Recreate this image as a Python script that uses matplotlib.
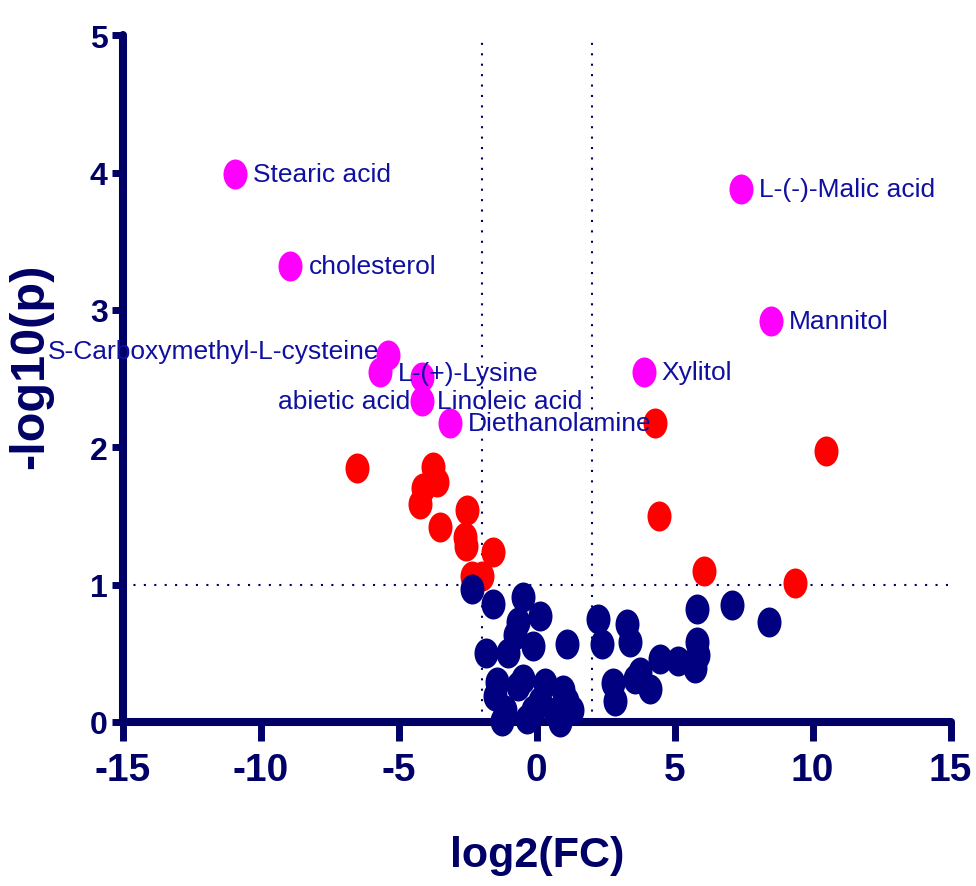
import matplotlib
matplotlib.use("Agg")
import matplotlib.pyplot as plt
import numpy as np
from matplotlib.path import Path
from matplotlib.transforms import Affine2D

plt.rcParams["font.family"] = ["Liberation Sans", "DejaVu Sans"]
plt.rcParams["axes.unicode_minus"] = False

# significant metabolites (labelled, magenta)
sig_names = [
    "Stearic acid", "cholesterol", "S-Carboxymethyl-L-cysteine", "L-(+)-Lysine",
    "abietic acid", "Linoleic acid", "Diethanolamine", "Xylitol",
    "L-(-)-Malic acid", "Mannitol",
]
sig_x = [-10.94, -8.95, -5.40, -5.69, -4.17, -4.17, -3.15, 3.88, 7.39, 8.48]
sig_y = [3.99, 3.32, 2.67, 2.55, 2.34, 2.51, 2.18, 2.55, 3.88, 2.92]

# p < 0.1 but not labelled (red)
red_x = [-6.52, -3.77, -3.62, -4.13, -4.24, -3.51, -2.54, -2.61, -2.57, -1.59,
         -2.36, -2.00, 4.28, 4.42, 6.05, 9.35, 10.50]
red_y = [1.85, 1.86, 1.75, 1.70, 1.59, 1.42, 1.54, 1.35, 1.28, 1.24,
         1.06, 1.06, 2.18, 1.50, 1.10, 1.01, 1.97]

# not significant (navy)
ns_x = [-2.36, -1.59, -0.51, 0.11, -0.69, -0.80, -0.14, -1.05, -1.85, 1.09,
        -1.45, -1.52, -0.69, -1.16, -1.27, 0.29, 0.11, 0.94, 1.09, 0.83,
        -0.14, -0.36, 1.27, 0.65, -0.51,
        2.21, 2.36, 3.26, 3.37, 2.75, 2.83, 3.55, 4.09, 4.46, 5.10,
        5.72, 5.80, 5.80, 5.83, 3.73, 7.07, 8.41]
ns_y = [0.97, 0.86, 0.91, 0.77, 0.73, 0.63, 0.55, 0.50, 0.50, 0.57,
        0.29, 0.19, 0.26, 0.09, 0.01, 0.28, 0.15, 0.23, 0.15, 0.00,
        0.09, 0.02, 0.09, 0.07, 0.31,
        0.75, 0.57, 0.71, 0.58, 0.28, 0.15, 0.31, 0.24, 0.46, 0.44,
        0.39, 0.58, 0.82, 0.49, 0.36, 0.85, 0.73]

fc_cut = 2
p_cut = 1

# label placement: (dx, dy) in points, horizontal alignment
label_pos = [
    (13, 0, "left"), (13.5, 0, "left"), (-6, 3, "right"), (13, -1, "left"),
    (-8.5, 0, "right"), (11, -17, "left"), (13, 0, "left"), (13, 0, "left"),
    (13, 0, "left"), (13, 0, "left"),
]

navy = "#000066"
label_col = "#1010a0"

# points look slightly taller than wide in the original
ellipse = Path.unit_circle().transformed(Affine2D().scale(0.8, 1.0))

fig = plt.figure(figsize=(9.76, 8.87), dpi=100)
ax = fig.add_axes([0.126, 0.185, 0.848, 0.774])

ax.axvline(-fc_cut, color=navy, lw=1.5, ls=(0, (1, 4)), zorder=1)
ax.axvline(fc_cut, color=navy, lw=1.5, ls=(0, (1, 4)), zorder=1)
ax.axhline(p_cut, color=navy, lw=1.5, ls=(0, (1, 4)), zorder=1)

ax.scatter(red_x, red_y, s=467, marker=ellipse, color="#ff0000", lw=0, zorder=3, clip_on=False)
ax.scatter(ns_x, ns_y, s=467, marker=ellipse, color="#000080", lw=0, zorder=4, clip_on=False)
ax.scatter(sig_x, sig_y, s=467, marker=ellipse, color="#ff00ff", lw=0, zorder=4, clip_on=False)

for name, x, y, (dx, dy, ha) in zip(sig_names, sig_x, sig_y, label_pos):
    ax.annotate(name, (x, y), xytext=(dx, dy), textcoords="offset points",
                ha=ha, va="center", fontsize=19, color=label_col, zorder=6)

ax.set_xlim(-15, 15)
ax.set_ylim(0, 5)
ax.set_xticks(np.arange(-15, 16, 5))
ax.set_yticks(np.arange(0, 6, 1))

for side in ["top", "right"]:
    ax.spines[side].set_visible(False)
for side in ["left", "bottom"]:
    ax.spines[side].set_color(navy)
    ax.spines[side].set_linewidth(5.8)
    ax.spines[side].set_capstyle("round")

ax.tick_params(axis="x", direction="out", length=14, width=5, color=navy, pad=8,
               labelsize=28, labelcolor=navy)
ax.tick_params(axis="y", direction="out", length=8, width=5, color=navy, pad=3,
               labelsize=23, labelcolor=navy)
for lab in ax.get_xticklabels() + ax.get_yticklabels():
    lab.set_fontweight("bold")

ax.set_xlabel("log2(FC)", fontsize=31, fontweight="bold", color=navy)
ax.xaxis.set_label_coords(0.5, -0.165)
ax.set_ylabel("-log10(p)", fontsize=35, fontweight="bold", color=navy)
ax.yaxis.set_label_coords(-0.085, 0.52)

fig.savefig("out.png", dpi=100)
